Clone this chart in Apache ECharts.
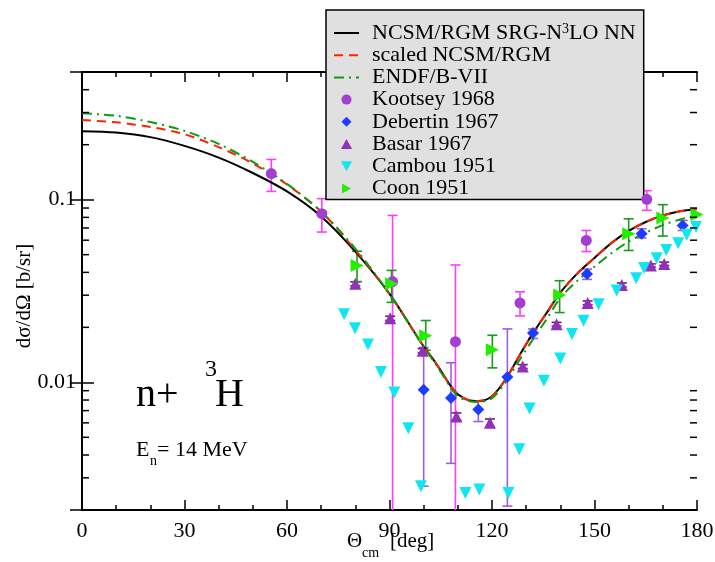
<!DOCTYPE html>
<html lang="en">
<head>
  <meta charset="UTF-8">
  <title>n+3H differential cross section, 14 MeV</title>
  <style>html, body { margin: 0; padding: 0; background: #fff; }</style>
</head>
<body>
  <div id="main" style="width: 715px;height:562px;"></div>

  <script src="https://cdn.jsdelivr.net/npm/echarts@6.0.0/dist/echarts.min.js"></script>
  <script>
    // theoretical curves, sampled in theta_cm [deg]
    let thetaGrid = [0, 10, 20, 30, 40, 50, 60, 70, 80, 90, 100, 103, 105, 108, 110, 113, 116, 120,
      124, 128, 132, 136, 140, 145, 150, 155, 160, 165, 170, 175, 180];
    let ncsmRgm = [0.237, 0.233, 0.220, 0.197, 0.170, 0.140, 0.111, 0.081, 0.052, 0.0305, 0.0157, 0.0132,
      0.0116, 0.0095, 0.0086, 0.0080, 0.0079, 0.0084, 0.0104, 0.0140, 0.0186, 0.0240, 0.0310, 0.0395,
      0.0480, 0.0580, 0.0675, 0.0755, 0.0820, 0.0865, 0.0890];
    let scaledRgm = [0.273, 0.265, 0.250, 0.228, 0.194, 0.158, 0.121, 0.086, 0.053, 0.0305, 0.0157, 0.0132,
      0.0116, 0.0095, 0.0086, 0.0080, 0.0079, 0.0084, 0.0104, 0.0140, 0.0186, 0.0240, 0.0310, 0.0395,
      0.0480, 0.0580, 0.0675, 0.0755, 0.0820, 0.0865, 0.0890];
    let endf = [0.297, 0.288, 0.266, 0.238, 0.202, 0.161, 0.122, 0.086, 0.054, 0.0305, 0.0156, 0.0130,
      0.0114, 0.0093, 0.0084, 0.0079, 0.0078, 0.0082, 0.0100, 0.0132, 0.0172, 0.0222, 0.0290, 0.0360,
      0.0430, 0.0510, 0.0590, 0.0660, 0.0725, 0.0780, 0.0820];

    // experiments: [theta, value, upper, lower]
    let kootsey = [
      [55.4, 0.139, 0.166, 0.111], [70.2, 0.0838, 0.1013, 0.0665], [90.9, 0.0356, 0.082, 0.001],
      [109.3, 0.0167, 0.0439, 0.001], [128.2, 0.0272, 0.0313, 0.0231], [147.6, 0.0598, 0.0678, 0.052],
      [165.3, 0.1004, 0.112, 0.0874]
    ];
    let debertin = [
      [100, 0.0091, 0.0155, 0.0027], [108, 0.0082, 0.0128, 0.0036], [116, 0.0071, 0.0079, 0.0061],
      [124.5, 0.0107, 0.0196, 0.0021], [132, 0.0186, 0.0196, 0.0174], [147.8, 0.0392, 0.0417, 0.0366],
      [163.8, 0.065, 0.0693, 0.0617], [175.8, 0.0723, 0.077, 0.0678]
    ];
    let basar = [
      [80, 0.0346, 0.0355, 0.0338], [90.2, 0.0224, 0.023, 0.0218], [99.7, 0.0149, 0.0153, 0.0145],
      [109.6, 0.0065, 0.0068, 0.0062], [119.4, 0.0060, 0.0063, 0.0057], [129, 0.0122, 0.0125, 0.0119],
      [138.9, 0.0208, 0.0213, 0.0203], [148, 0.0272, 0.0279, 0.0266], [158, 0.0341, 0.035, 0.0333],
      [166.5, 0.0436, 0.0445, 0.0428], [170.4, 0.0445, 0.0455, 0.0436]
    ];
    let cambou = [
      [76.7, 0.0236], [79.9, 0.0198], [83.7, 0.0161], [87.5, 0.0114], [91.4, 0.0088], [95.5, 0.0056],
      [99.2, 0.0027], [112.2, 0.00248], [116.3, 0.00259], [119.9, 0.00195], [124.8, 0.00248],
      [128.0, 0.0043], [131, 0.0072], [135.2, 0.0102], [140, 0.0135], [143.4, 0.0184], [146.8, 0.0217],
      [151.2, 0.0268], [156.5, 0.0318], [162.2, 0.0371], [164.5, 0.0423], [168.2, 0.0478], [171, 0.0531],
      [174.5, 0.0578], [177, 0.0642], [179.7, 0.0708]
    ];
    let coon = [
      [80.5, 0.0436, 0.0522, 0.0356], [90.6, 0.0346, 0.041, 0.0274], [100.6, 0.018, 0.0218, 0.015],
      [120.1, 0.0151, 0.0181, 0.012], [139.8, 0.0301, 0.036, 0.0241], [160, 0.065, 0.0786, 0.0527],
      [170, 0.0793, 0.0939, 0.0632], [180, 0.083, 0.084, 0.082]
    ];

    let yMin = 0.002;
    let yMax = 0.5;
    let yMinorTicks = [0.003, 0.004, 0.005, 0.006, 0.007, 0.008, 0.009,
      0.02, 0.03, 0.04, 0.05, 0.06, 0.07, 0.08, 0.09, 0.2, 0.3, 0.4];

    let serif = 'Liberation Serif';
    let names = ['NCSM/RGM SRG-N3LO NN', 'scaled NCSM/RGM', 'ENDF/B-VII', 'Kootsey 1968',
      'Debertin 1967', 'Basar 1967', 'Cambou 1951', 'Coon 1951'];

    // legend icons drawn upright so they keep their aspect
    let iconTriUp = 'path://M5,0 L10,9 L0,9 Z';
    let iconTriDown = 'path://M0,0 L10,0 L5,9 Z';
    let iconTriRight = 'path://M0,0 L9,5 L0,10 Z';
    let iconDiamond = 'path://M5,0 L10,5 L5,10 L0,5 Z';

    let zip = (xs, ys) => xs.map((x, i) => [x, ys[i]]);

    function errorBars(rows, color) {
      return {
        type: 'custom',
        z: 3,
        clip: true,
        silent: true,
        renderItem: (params, api) => {
          let x = api.value(0);
          let hiVal = api.value(2);
          let loVal = api.value(3);
          let hi = api.coord([x, hiVal]);
          let lo = api.coord([x, Math.max(loVal, yMin * 0.9)]);
          let half = 5;
          let style = { stroke: color, lineWidth: 1.6 };
          let children = [{
            type: 'line',
            shape: { x1: hi[0], y1: hi[1], x2: lo[0], y2: lo[1] },
            style: style
          }, {
            type: 'line',
            shape: { x1: hi[0] - half, y1: hi[1], x2: hi[0] + half, y2: hi[1] },
            style: style
          }];
          if (loVal >= yMin) {
            children.push({
              type: 'line',
              shape: { x1: lo[0] - half, y1: lo[1], x2: lo[0] + half, y2: lo[1] },
              style: style
            });
          }
          return { type: 'group', children: children };
        },
        encode: { x: 0, y: 1 },
        data: rows
      };
    }

    function logAxis(position) {
      return {
        type: 'log',
        logBase: 10,
        position: position,
        min: yMin,
        max: yMax,
        axisLine: { show: true, lineStyle: { color: '#000', width: 2 } },
        axisTick: { inside: true, length: 12, lineStyle: { color: '#000', width: 1.5 } },
        axisLabel: {
          show: position === 'left',
          showMinLabel: false,
          showMaxLabel: false,
          margin: 6,
          color: '#000',
          fontFamily: serif,
          fontSize: 22,
          formatter: (v) => String(v)
        },
        splitLine: { show: false }
      };
    }

    function angleAxis(position) {
      return {
        type: 'value',
        position: position,
        min: 0,
        max: 180,
        interval: 30,
        axisLine: { lineStyle: { color: '#000', width: 2 } },
        axisTick: { inside: true, length: 10, lineStyle: { color: '#000', width: 1.5 } },
        minorTick: { show: true, splitNumber: 3, length: 5, lineStyle: { color: '#000', width: 1.5 } },
        axisLabel: {
          show: position === 'bottom',
          margin: 10,
          color: '#000',
          fontFamily: serif,
          fontSize: 22
        },
        splitLine: { show: false }
      };
    }

    function curve(name, values, color, dash, z) {
      return {
        name: name,
        type: 'line',
        symbol: 'none',
        smooth: 0.3,
        z: z,
        lineStyle: { color: color, width: 2, type: dash },
        itemStyle: { color: color },
        data: zip(thetaGrid, values)
      };
    }

    function points(name, rows, symbol, size, rotate, color) {
      return {
        name: name,
        type: 'scatter',
        symbol: symbol,
        symbolSize: size,
        symbolRotate: rotate,
        z: 6,
        itemStyle: { color: color, opacity: 1 },
        data: rows.map((d) => [d[0], d[1]])
      };
    }

    let chart = echarts.init(document.getElementById('main'));
    let option = {
      animation: false,
      backgroundColor: '#fff',
      grid: { left: 82, right: 18, top: 72, bottom: 52, outerBoundsMode: 'none' },
      xAxis: [angleAxis('bottom'), angleAxis('top')],
      yAxis: [logAxis('left'), logAxis('right')],
      legend: {
        orient: 'vertical',
        left: 326,
        top: 10,
        padding: [12, 8, 0, 7],
        itemWidth: 25,
        itemHeight: 10,
        itemGap: 0.2,
        backgroundColor: '#e0e0e0',
        borderColor: '#000',
        borderWidth: 1.5,
        data: [
          { name: names[0], itemStyle: { opacity: 0 } },
          { name: names[1], itemStyle: { opacity: 0 } },
          { name: names[2], itemStyle: { opacity: 0 } },
          { name: names[3], icon: 'circle' },
          { name: names[4], icon: iconDiamond },
          { name: names[5], icon: iconTriUp },
          { name: names[6], icon: iconTriDown },
          { name: names[7], icon: iconTriRight }
        ],
        formatter: (name) => name === names[0] ? 'NCSM/RGM SRG-N{sup|3}LO NN' : name,
        textStyle: {
          fontFamily: serif,
          fontSize: 22,
          lineHeight: 21,
          color: '#000',
          padding: [0, 0, 0, 8],
          rich: {
            sup: { fontFamily: serif, fontSize: 14, lineHeight: 12, verticalAlign: 'top', padding: [0, 0, 6, 0] }
          }
        }
      },
      series: [
        {
          // minor ticks of the log axes, drawn at both edges
          type: 'custom',
          z: 7,
          clip: false,
          silent: true,
          renderItem: (params, api) => {
            let v = api.value(1);
            let l = api.coord([0, v]);
            let r = api.coord([180, v]);
            let style = { stroke: '#000', lineWidth: 1.5 };
            return {
              type: 'group',
              children: [
                { type: 'line', shape: { x1: l[0], y1: l[1], x2: l[0] + 7, y2: l[1] }, style: style },
                { type: 'line', shape: { x1: r[0] - 7, y1: r[1], x2: r[0], y2: r[1] }, style: style }
              ]
            };
          },
          encode: { x: 0, y: 1 },
          data: yMinorTicks.map((v) => [90, v, v, v])
        },
        curve(names[0], ncsmRgm, '#000', 'solid', 4),
        curve(names[1], scaledRgm, '#ff2200', [9, 6], 5),
        curve(names[2], endf, '#109a10', [10, 5, 2, 5], 5),
        errorBars(kootsey, '#ff3cff'),
        errorBars(debertin, '#9b5ee0'),
        errorBars(basar, '#7a157e'),
        errorBars(coon, '#1a9a1a'),
        points(names[3], kootsey, 'circle', 11, 0, '#a23fd0'),
        points(names[4], debertin, 'diamond', 12, 0, '#1d3cff'),
        points(names[5], basar, 'triangle', 12, 0, '#9130b8'),
        points(names[6], cambou, 'triangle', 12, 180, '#10e6f2'),
        points(names[7], coon, 'triangle', 13, -90, '#22ee00')
      ],
      graphic: [
        { type: 'text', x: 136, y: 395, style: { text: 'n+', font: '40px "Liberation Serif"', fill: '#000', verticalAlign: 'middle' } },
        { type: 'text', x: 205, y: 370, style: { text: '3', font: '24px "Liberation Serif"', fill: '#000', verticalAlign: 'middle' } },
        { type: 'text', x: 215, y: 395, style: { text: 'H', font: '40px "Liberation Serif"', fill: '#000', verticalAlign: 'middle' } },
        { type: 'text', x: 136, y: 450, style: { text: 'E', font: '22px "Liberation Serif"', fill: '#000', verticalAlign: 'middle' } },
        { type: 'text', x: 150, y: 461, style: { text: 'n', font: '14px "Liberation Serif"', fill: '#000', verticalAlign: 'middle' } },
        { type: 'text', x: 157, y: 450, style: { text: '= 14 MeV', font: '22px "Liberation Serif"', fill: '#000', verticalAlign: 'middle' } },
        { type: 'text', x: 347, y: 541, style: { text: 'Θ', font: '21px "Liberation Serif"', fill: '#000', verticalAlign: 'middle' } },
        { type: 'text', x: 362, y: 553, style: { text: 'cm', font: '14px "Liberation Serif"', fill: '#000', verticalAlign: 'middle' } },
        { type: 'text', x: 390, y: 541, style: { text: '[deg]', font: '21px "Liberation Serif"', fill: '#000', verticalAlign: 'middle' } },
        {
          type: 'text', x: 24, y: 296, rotation: Math.PI / 2,
          style: { text: 'dσ/dΩ [b/sr]', font: '21px "Liberation Serif"', fill: '#000', align: 'center', verticalAlign: 'middle' }
        }
      ]
    };
    chart.setOption(option);
  </script>
</body>
</html>
